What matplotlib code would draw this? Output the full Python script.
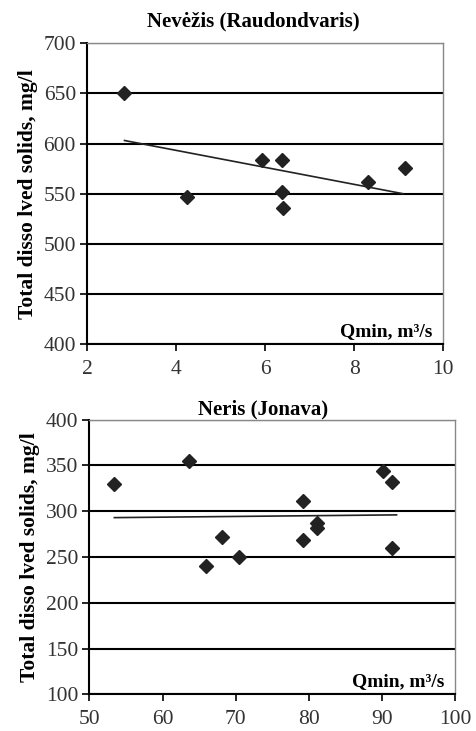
import matplotlib.pyplot as plt

plt.rcParams['font.family'] = ['Liberation Serif', 'DejaVu Serif']

# Nevėžis (Raudondvaris)
nev_q = [2.84, 4.24, 5.93, 6.37, 6.37, 6.40, 8.31, 9.15]
nev_tds = [650, 547, 584, 584, 552, 536, 562, 576]
nev_trend_q = [2.84, 9.1]
nev_trend_tds = [603, 550]

# Neris (Jonava)
ner_q = [53.4, 63.6, 65.9, 68.1, 70.4, 79.2, 79.2, 81.1, 81.1, 90.2, 91.4, 91.4]
ner_tds = [330, 355, 240, 272, 250, 311, 269, 287, 282, 344, 332, 260]
ner_trend_q = [53.4, 92.0]
ner_trend_tds = [293, 296]

ylabel = 'Total disso lved solids, mg/l'
xtext = 'Qmin, m³/s'

fig = plt.figure(figsize=(4.76, 7.31), dpi=100)
ax1 = fig.add_axes([0.183, 0.529, 0.748, 0.412])
ax2 = fig.add_axes([0.188, 0.050, 0.768, 0.376])


def style(ax, xlim, ylim, yticks, xticks, title, x, y, tx, ty, tpad, tx_pos):
    ax.plot(x, y, 'D', color='#222222', markersize=7, zorder=3)
    ax.plot(tx, ty, color='#222222', lw=1.2, zorder=2)
    ax.set_xlim(*xlim)
    ax.set_ylim(*ylim)
    ax.set_yticks(yticks)
    ax.set_xticks(xticks)
    ax.yaxis.grid(True, color='black', lw=1.5)
    ax.set_axisbelow(True)
    ax.tick_params(labelsize=15.5, labelcolor='#333333', direction='out',
                   length=5, width=1.2, pad=3)
    ax.tick_params(axis='x', pad=6)
    for s in ['top', 'right']:
        ax.spines[s].set_color('#888888')
        ax.spines[s].set_linewidth(1.0)
    for s in ['left', 'bottom']:
        ax.spines[s].set_color('black')
        ax.spines[s].set_linewidth(1.5)
    ax.set_title(title, fontsize=15, fontweight='bold', pad=tpad, x=tx_pos)
    ax.set_ylabel(ylabel, fontsize=15.5, fontweight='bold', labelpad=4)
    ax.text(0.97, 0.015, xtext, transform=ax.transAxes, ha='right', va='bottom',
            fontsize=14, fontweight='bold')


style(ax1, (2, 10), (400, 700), range(400, 701, 50), range(2, 11, 2),
      'Nevėžis (Raudondvaris)', nev_q, nev_tds, nev_trend_q, nev_trend_tds,
      12, 0.466)
style(ax2, (50, 100), (100, 400), range(100, 401, 50), range(50, 101, 10),
      'Neris (Jonava)', ner_q, ner_tds, ner_trend_q, ner_trend_tds, 2, 0.475)

fig.savefig('out.png', dpi=100)
